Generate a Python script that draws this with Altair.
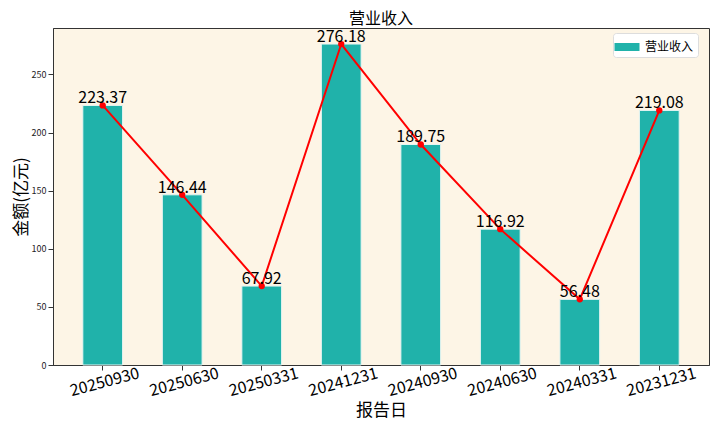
import altair as alt
import pandas as pd

dates = ["20250930", "20250630", "20250331", "20241231", "20240930", "20240630", "20240331", "20231231"]
values = [223.37, 146.44, 67.92, 276.18, 189.75, 116.92, 56.48, 219.08]
labels = ["223.37", "146.44", "67.92", "276.18", "189.75", "116.92", "56.48", "219.08"]
series = "营业收入"

df = pd.DataFrame({"date": dates, "value": values, "label": labels, "series": [series] * len(dates)})

FONT = "Noto Sans CJK SC"

x = alt.X("date:N", sort=dates, title="报告日",
          scale=alt.Scale(paddingInner=0.5, paddingOuter=0.375),
          axis=alt.Axis(labelAngle=-15, labelAlign="center", labelBaseline="top",
                        labelFontSize=16, titleFontSize=17, labelColor="#000",
                        titleColor="#000", tickColor="#333", domainColor="#333", labelPadding=4,
                        titleFontWeight="normal", titlePadding=4))
y = alt.Y("value:Q", title="金额(亿元)",
          scale=alt.Scale(domain=[0, 290], nice=False),
          axis=alt.Axis(values=[0, 50, 100, 150, 200, 250], labelFontSize=9, titleFontSize=17,
                        labelColor="#222", titleColor="#000", tickColor="#333", domainColor="#333",
                        grid=False, minExtent=22, maxExtent=22, titlePadding=1,
                        titleFontWeight="normal"))

base = alt.Chart(df)

bars = base.mark_bar(stroke="#e6f4f2", strokeWidth=1).encode(
    x=x, y=y,
    color=alt.Color("series:N", title=None,
                    scale=alt.Scale(domain=[series], range=["#20B2AA"]),
                    legend=alt.Legend(orient="none", legendX=560, legendY=5,
                                      symbolType="M-1.25,-0.4H1.25V0.4H-1.25Z", symbolSize=400,
                                      labelFontSize=12, labelColor="#000", fillColor="#ffffff",
                                      strokeColor="#dddddd", padding=4, cornerRadius=3,
                                      symbolStrokeWidth=0, labelOffset=8))
)

line = base.mark_line(color="red", strokeWidth=2).encode(x=x, y=y)
pts = base.mark_point(color="red", filled=True, opacity=1, size=40).encode(x=x, y=y)

text = base.mark_text(baseline="bottom", align="center", fontSize=16, color="#000", dy=1).encode(
    x=x, y=y, text="label:N")

chart = alt.layer(bars, line, pts, text).properties(
    width=702, height=412,
    autosize=alt.AutoSizeParams(type="fit", contains="padding"),
    title=alt.TitleParams(series, fontSize=16, fontWeight="normal", color="#000", offset=1,
                          anchor="middle", baseline="top"),
    padding={"left": 4, "top": 3, "right": 1, "bottom": 1},
).configure(font=FONT).configure_view(
    fill="#FDF5E6", stroke="#333", strokeWidth=1
)

chart.save("out.html", embed_options={"renderer": "svg", "actions": False})
